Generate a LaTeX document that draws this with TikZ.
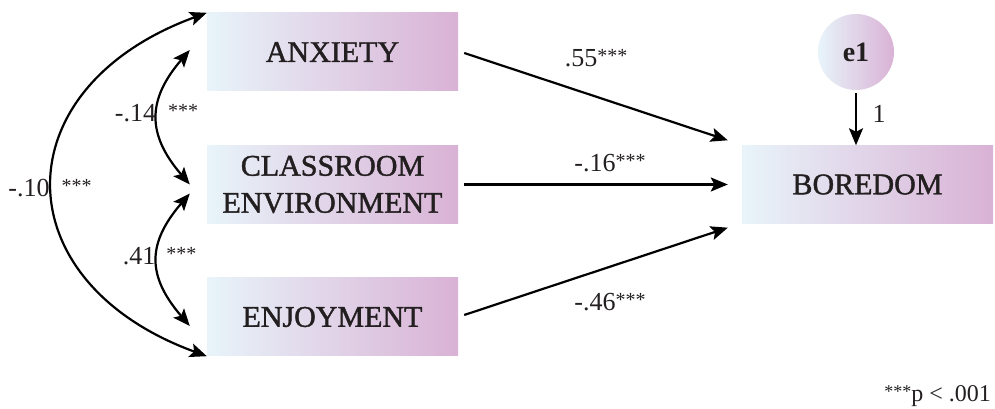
\documentclass[tikz,border=0pt]{standalone}
\usepackage{fontspec}
\setmainfont{Liberation Serif}
\newfontfamily\boxfont{Liberation Serif}[BoldFont=Liberation Serif,BoldFeatures={FakeBold=1.4}]
\usetikzlibrary{arrows.meta,calc}
\definecolor{gL}{HTML}{E8F4FA}
\definecolor{gR}{HTML}{D9B2D5}
\definecolor{ink}{HTML}{231F20}
\newcommand\mystars{\raisebox{4pt}{\fontsize{20}{20}\selectfont ***}}
\begin{document}
\begin{tikzpicture}[x=1pt,y=1pt,
  varbox/.style={minimum width=251pt,minimum height=78pt,inner sep=0pt,left color=gL,right color=gR,text=ink,font=\boxfont\bfseries\fontsize{30}{37}\selectfont,align=center},
  errnode/.style={circle,minimum size=76pt,inner sep=0pt,left color=gL,right color=gR,text=ink,font=\fontsize{28}{30}\selectfont\bfseries},
  lbl/.style={text=ink,font=\fontsize{26}{28}\selectfont,inner sep=0pt},
  arr/.style={line width=2.2pt,-{Stealth[length=17pt,width=14pt,inset=3.5pt]}},
  darr/.style={line width=2.2pt,{Stealth[length=17pt,width=14pt,inset=3.5pt]}-{Stealth[length=17pt,width=14pt,inset=3.5pt]}}
]
\useasboundingbox (0,0) rectangle (995,409);
% nodes (y = 409 - pixel y)
\node[varbox] (anx) at (332.5,357) {ANXIETY};
\node[varbox] (cls) at (332.5,224.5) {CLASSROOM\\ENVIRONMENT};
\node[varbox] (enj) at (332.5,92) {ENJOYMENT};
\node[varbox] (bor) at (867.5,224.5) {BOREDOM};
\node[errnode] (e1) at (856,357) {e1};
% path arrows
\draw[arr] ([xshift=6pt,yshift=-1pt]anx.east) -- ([shift={(-14pt,5pt)}]bor.north west) node[lbl,pos=0.5,yshift=39pt] {.55\mystars};
\draw[arr] ([xshift=6pt]cls.east) -- ([xshift=-14pt]bor.west) node[lbl,pos=0.5,xshift=14pt,yshift=21pt] {-.16\mystars};
\draw[arr] ([xshift=6pt,yshift=2pt]enj.east) -- ([shift={(-14pt,-4pt)}]bor.south west) node[lbl,pos=0.5,xshift=14pt,yshift=-31pt] {-.46\mystars};
\draw[arr] ([yshift=-3pt]e1.south) -- (e1.south |- bor.north) node[lbl,midway,xshift=23pt,yshift=5pt] {1};
% covariances
\draw[darr] ([shift={(-17pt,2pt)}]anx.west) .. controls +(-43,-50) and +(-43,50) .. ([xshift=-17pt]cls.west)
  node[lbl,pos=0.5,xshift=-1pt,yshift=4pt] {-.14\hspace{12pt}\mystars};
\draw[darr] ([shift={(-17pt,-9pt)}]cls.west) .. controls +(-43,-50) and +(-43,50) .. ([shift={(-17pt,-9pt)}]enj.west)
  node[lbl,pos=0.5,xshift=2pt,yshift=4pt] {.41\hspace{11pt}\mystars};
\draw[darr] (anx.north west) .. controls +(-205,-75) and +(-205,75) .. (enj.south west)
  node[lbl,pos=0.5,xshift=-3pt,yshift=-4pt] {-.10\hspace{12pt}\mystars};
% note
\node[lbl,anchor=base east,font=\fontsize{24}{26}\selectfont] (note) at (991,7) {\raisebox{4pt}{\fontsize{18}{18}\selectfont ***}p < .001};
\end{tikzpicture}
\end{document}
